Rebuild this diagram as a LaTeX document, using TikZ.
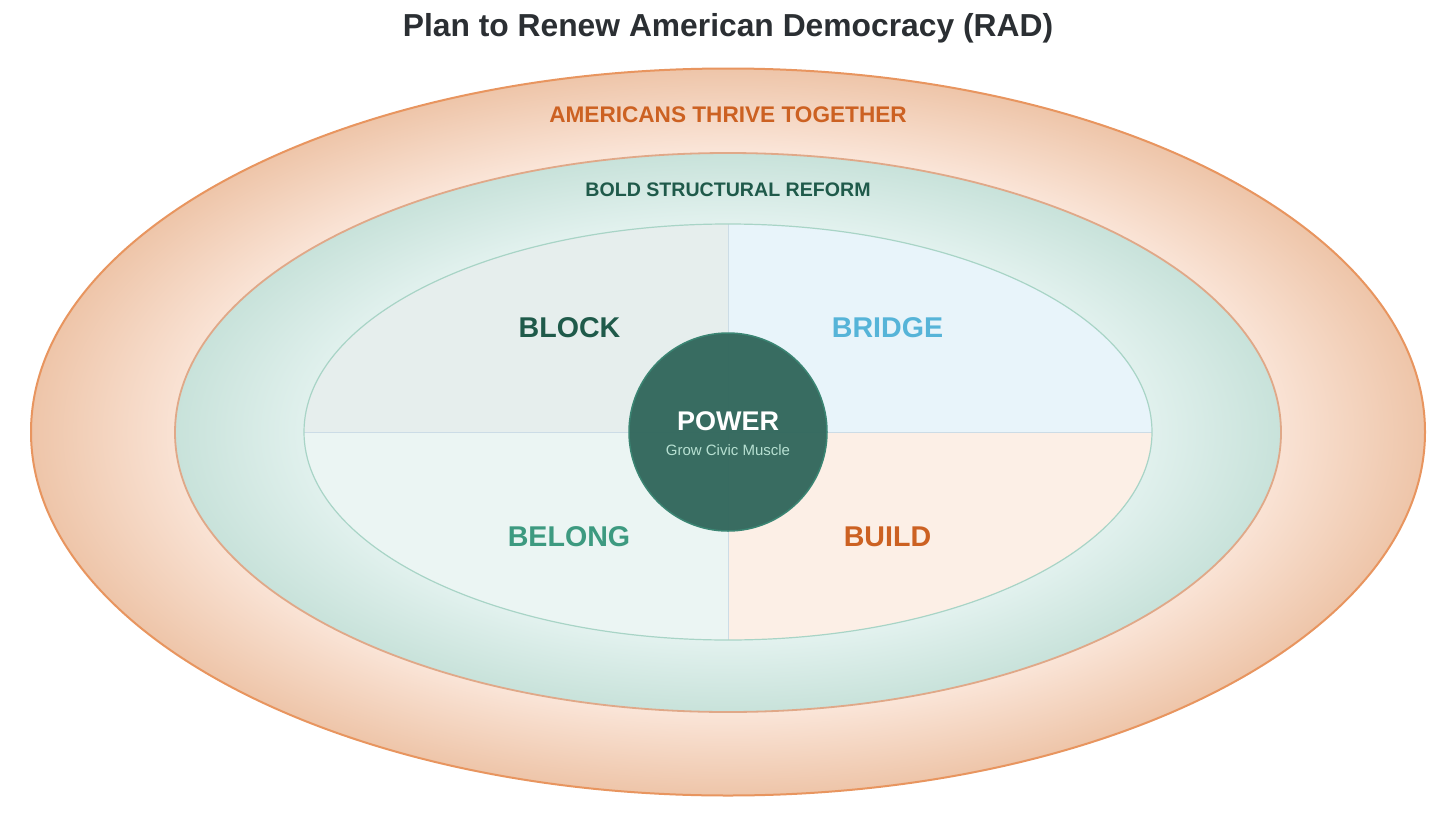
\documentclass[tikz,border=0pt]{standalone}
\usepackage{fontspec}
\setmainfont{Liberation Sans}
\definecolor{titlec}{HTML}{2B2F33}
\definecolor{orangec}{HTML}{CC6122}
\definecolor{darkteal}{HTML}{1F5A4A}
\definecolor{bluec}{HTML}{56B4D8}
\definecolor{tealc}{HTML}{3D9A80}
\definecolor{outA}{HTML}{FBE7DB}
\definecolor{outB}{HTML}{EEC5A9}
\definecolor{outBorder}{HTML}{E8955F}
\definecolor{midA}{HTML}{E3F2EF}
\definecolor{midB}{HTML}{C8E2DA}
\definecolor{midBorder}{HTML}{E0A888}
\definecolor{innBorder}{HTML}{A8D4C6}
\definecolor{qTL}{HTML}{E6EEED}
\definecolor{qTR}{HTML}{E8F4FA}
\definecolor{qBL}{HTML}{EBF5F3}
\definecolor{qBR}{HTML}{FCEFE6}
\definecolor{crossc}{HTML}{CCDCE6}
\definecolor{powerfill}{HTML}{33685D}
\definecolor{powerborder}{HTML}{3B8573}
\definecolor{mintc}{HTML}{B7E0D2}
\pgfdeclareradialshading{outerG}{\pgfpoint{0bp}{0bp}}{color(0bp)=(outA); color(19bp)=(outA); color(25bp)=(outB); color(50bp)=(outB)}
\pgfdeclareradialshading{midG}{\pgfpoint{0bp}{0bp}}{color(0bp)=(midA); color(18.5bp)=(midA); color(25bp)=(midB); color(50bp)=(midB)}
\tikzset{
  lbl/.style={font=\fontsize{#1}{#1}\selectfont\bfseries, inner sep=0pt, anchor=center},
}
\begin{document}
\begin{tikzpicture}[x=1pt,y=-1pt]
\useasboundingbox (0,0) rectangle (1456,819);
\fill[white] (0,0) rectangle (1456,819);
% outer ellipse
\shade[shading=outerG] (728,432) ellipse [x radius=697, y radius=363.5];
\draw[outBorder, line width=2pt] (728,432) ellipse [x radius=697, y radius=363.5];
% middle ellipse
\shade[shading=midG] (728,432.5) ellipse [x radius=553, y radius=279.5];
\draw[midBorder, line width=1.8pt] (728,432.5) ellipse [x radius=553, y radius=279.5];
% inner quadrants
\begin{scope}
\clip (728,432) ellipse [x radius=424, y radius=208];
\fill[qTL] (300,220) rectangle (728,432);
\fill[qTR] (728,220) rectangle (1156,432);
\fill[qBL] (300,432) rectangle (728,644);
\fill[qBR] (728,432) rectangle (1156,644);
\end{scope}
\coordinate (vt) at (728,224);
\coordinate (vb) at (728,640);
\coordinate (hl) at (304,432);
\coordinate (hr) at (1152,432);
\draw[crossc, line width=1pt] (vt) -- (vb);
\draw[crossc, line width=1pt] (hl) -- (hr);
\draw[innBorder, line width=1.2pt] (728,432) ellipse [x radius=424, y radius=208];
% center circle
\node[circle, minimum size=198pt, inner sep=0pt, fill=powerfill, fill opacity=0.97, draw=powerborder, line width=1.5pt] (power) at (728,432) {};
% texts
\node[lbl=31.8, text=titlec] (title) at (728,28) {Plan to Renew American Democracy (RAD)};
\node[lbl=22.6, text=orangec] (thrive) at (728,114.5) {AMERICANS THRIVE TOGETHER};
\node[lbl=19.6, text=darkteal] (reform) at (728,189.5) {BOLD STRUCTURAL REFORM};
\node[lbl=28.6, text=darkteal] (block) at (569.5,328) {BLOCK};
\node[lbl=28.6, text=bluec] (bridge) at (887.5,328) {BRIDGE};
\node[lbl=28.6, text=tealc] (belong) at (569,536.5) {BELONG};
\node[lbl=28.6, text=orangec] (build) at (887.5,536.5) {BUILD};
\node[lbl=27, text=white] (powert) at (728,421.5) {POWER};
\node[font=\fontsize{15}{15}\selectfont, inner sep=0pt, text=mintc] (muscle) at (728,450.5) {Grow Civic Muscle};
\end{tikzpicture}
\end{document}
